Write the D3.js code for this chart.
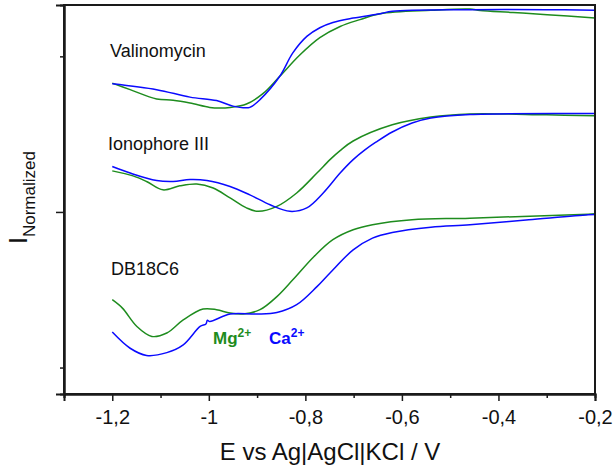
<!DOCTYPE html>
<html>
<head>
<meta charset="utf-8">
<script src="https://cdn.jsdelivr.net/npm/d3@7"></script>
<style>
  body { margin: 0; background: #fff; }
  text { font-family: "Liberation Sans", Arial, sans-serif; fill: #111; }
  .curve { fill: none; stroke-width: 1.5; }
  .axis path, .axis line { stroke: #1a1a1a; }
</style>
</head>
<body>
<script>
// potentials (V) and normalized currents
const valCaX = [-1.2, -1.108, -1.039, -0.984, -0.95, -0.929, -0.915, -0.894, -0.853, -0.826, -0.797, -0.77, -0.743, -0.701, -0.645, -0.62, -0.459, -0.3, -0.2];
const valCaY = [0.912, 0.893, 0.869, 0.858, 0.84, 0.835, 0.836, 0.861, 0.936, 1.011, 1.064, 1.092, 1.109, 1.123, 1.137, 1.145, 1.15, 1.15, 1.148];
const valMgX = [-1.2, -1.163, -1.108, -1.074, -1.039, -0.998, -0.977, -0.956, -0.922, -0.888, -0.853, -0.811, -0.77, -0.728, -0.687, -0.645, -0.54, -0.459, -0.438, -0.37, -0.299, -0.2];
const valMgY = [0.914, 0.893, 0.863, 0.859, 0.85, 0.836, 0.834, 0.836, 0.847, 0.88, 0.936, 1.005, 1.06, 1.096, 1.118, 1.137, 1.148, 1.152, 1.147, 1.141, 1.134, 1.123];

const ionCaX = [-1.2, -1.163, -1.108, -1.074, -1.039, -1.004, -0.956, -0.915, -0.873, -0.832, -0.797, -0.763, -0.728, -0.701, -0.676, -0.654, -0.62, -0.579, -0.54, -0.459, -0.214, -0.2];
const ionCaY = [0.646, 0.625, 0.601, 0.598, 0.604, 0.601, 0.582, 0.555, 0.523, 0.502, 0.513, 0.561, 0.625, 0.668, 0.700, 0.724, 0.757, 0.786, 0.802, 0.813, 0.816, 0.816];
const ionMgX = [-1.2, -1.157, -1.129, -1.095, -1.06, -1.025, -0.991, -0.956, -0.922, -0.898, -0.859, -0.818, -0.776, -0.749, -0.728, -0.701, -0.62, -0.54, -0.459, -0.3, -0.2];
const ionMgY = [0.632, 0.616, 0.598, 0.571, 0.584, 0.59, 0.577, 0.545, 0.513, 0.502, 0.518, 0.561, 0.625, 0.668, 0.697, 0.728, 0.78, 0.805, 0.815, 0.812, 0.809];

const dbCaX = [-1.2, -1.163, -1.129, -1.087, -1.053, -1.018, -1.006, -1.003, -0.998, -0.956, -0.901, -0.859, -0.818, -0.776, -0.749, -0.701, -0.661, -0.62, -0.54, -0.459, -0.337, -0.214, -0.2];
const dbCaY = [0.114, 0.062, 0.039, 0.048, 0.073, 0.132, 0.14, 0.152, 0.148, 0.172, 0.172, 0.177, 0.202, 0.26, 0.304, 0.378, 0.416, 0.434, 0.451, 0.459, 0.475, 0.491, 0.492];
const dbMgX = [-1.2, -1.179, -1.149, -1.118, -1.087, -1.053, -1.012, -0.984, -0.956, -0.929, -0.894, -0.859, -0.826, -0.782, -0.743, -0.701, -0.661, -0.579, -0.459, -0.214, -0.2];
const dbMgY = [0.218, 0.191, 0.132, 0.1, 0.111, 0.153, 0.188, 0.186, 0.175, 0.172, 0.186, 0.228, 0.282, 0.357, 0.411, 0.443, 0.459, 0.475, 0.48, 0.493, 0.494];

const xMajor = [-1.2, -1.0, -0.8, -0.6, -0.4, -0.2];
const xMinor = [-1.3, -1.1, -0.9, -0.7, -0.5, -0.3];
const yMajor = [0.5];
const yMinor = [0, 1];

const w = 615, h = 471;
const margin = {top: 5, right: 20, bottom: 77, left: 64};

const svg = d3.select("body").append("svg")
    .attr("width", w)
    .attr("height", h);

const x = d3.scaleLinear()
    .domain([-1.3, -0.2])
    .range([margin.left, w - margin.right]);

const y = d3.scaleLinear()
    .domain([-0.085, 1.165])
    .range([h - margin.bottom, margin.top]);

const line = d3.line()
    .x(d => x(d[0]))
    .y(d => y(d[1]))
    .curve(d3.curveCatmullRom.alpha(0.5));

const series = [
    {xs: valMgX, ys: valMgY, color: "#1e8c1e"},
    {xs: valCaX, ys: valCaY, color: "#0a0aff"},
    {xs: ionMgX, ys: ionMgY, color: "#1e8c1e"},
    {xs: ionCaX, ys: ionCaY, color: "#0a0aff"},
    {xs: dbMgX, ys: dbMgY, color: "#1e8c1e"},
    {xs: dbCaX, ys: dbCaY, color: "#0a0aff"}
];

svg.selectAll(".curve")
    .data(series)
    .enter().append("path")
    .attr("class", "curve")
    .attr("stroke", d => d.color)
    .attr("d", d => line(d.xs.map((v, i) => [v, d.ys[i]])));

// frame
svg.append("rect")
    .attr("x", margin.left)
    .attr("y", margin.top)
    .attr("width", w - margin.right - margin.left)
    .attr("height", h - margin.bottom - margin.top)
    .attr("fill", "none")
    .attr("stroke", "#1a1a1a")
    .attr("stroke-width", 2);

const fmt = d => String(+d.toFixed(1)).replace(".", ",");

const xAxis = svg.append("g")
    .attr("class", "axis")
    .attr("transform", `translate(0,${h - margin.bottom})`)
    .call(d3.axisBottom(x).tickValues(xMajor).tickSize(7).tickFormat(fmt));
xAxis.selectAll("text")
    .attr("y", 30).attr("dy", 0)
    .style("font-size", "20px")
    .style("font-family", "Liberation Sans, Arial, sans-serif")
    .attr("fill", "#111");

svg.append("g")
    .attr("class", "axis")
    .attr("transform", `translate(0,${h - margin.bottom})`)
    .call(d3.axisBottom(x).tickValues(xMinor).tickSize(4).tickFormat(""));

svg.append("g")
    .attr("class", "axis")
    .attr("transform", `translate(${margin.left},0)`)
    .call(d3.axisLeft(y).tickValues(yMajor).tickSize(8).tickFormat(""));

svg.append("g")
    .attr("class", "axis")
    .attr("transform", `translate(${margin.left},0)`)
    .call(d3.axisLeft(y).tickValues(yMinor).tickSize(4).tickFormat(""));

svg.selectAll(".axis path").attr("stroke-width", 2);
svg.selectAll(".axis line").attr("stroke-width", 1.5);

// axis titles
svg.append("text")
    .attr("x", 330)
    .attr("y", 460)
    .attr("text-anchor", "middle")
    .style("font-size", "24px")
    .text("E vs Ag|AgCl|KCl / V");

const yl = svg.append("text")
    .attr("transform", "translate(27,244) rotate(-90)")
    .style("font-size", "25px");
yl.append("tspan").text("I");
yl.append("tspan").attr("dy", 8).style("font-size", "17px").text("Normalized");

// curve labels
const labels = [
    {t: "Valinomycin", x: 110, y: 57},
    {t: "Ionophore III", x: 108, y: 150},
    {t: "DB18C6", x: 111, y: 275}
];
svg.selectAll(".lbl")
    .data(labels)
    .enter().append("text")
    .attr("class", "lbl")
    .attr("x", d => d.x)
    .attr("y", d => d.y)
    .style("font-size", "18px")
    .text(d => d.t);

const ions = [
    {t: "Mg", x: 213, color: "#1e8c1e"},
    {t: "Ca", x: 269, color: "#0a0aff"}
];
ions.forEach(d => {
    const t = svg.append("text")
        .attr("x", d.x)
        .attr("y", 344)
        .style("font-size", "17px")
        .style("font-weight", "bold")
        .style("fill", d.color);
    t.append("tspan").text(d.t);
    t.append("tspan").attr("dy", -7).style("font-size", "12px").text("2+");
});
</script>
</body>
</html>
